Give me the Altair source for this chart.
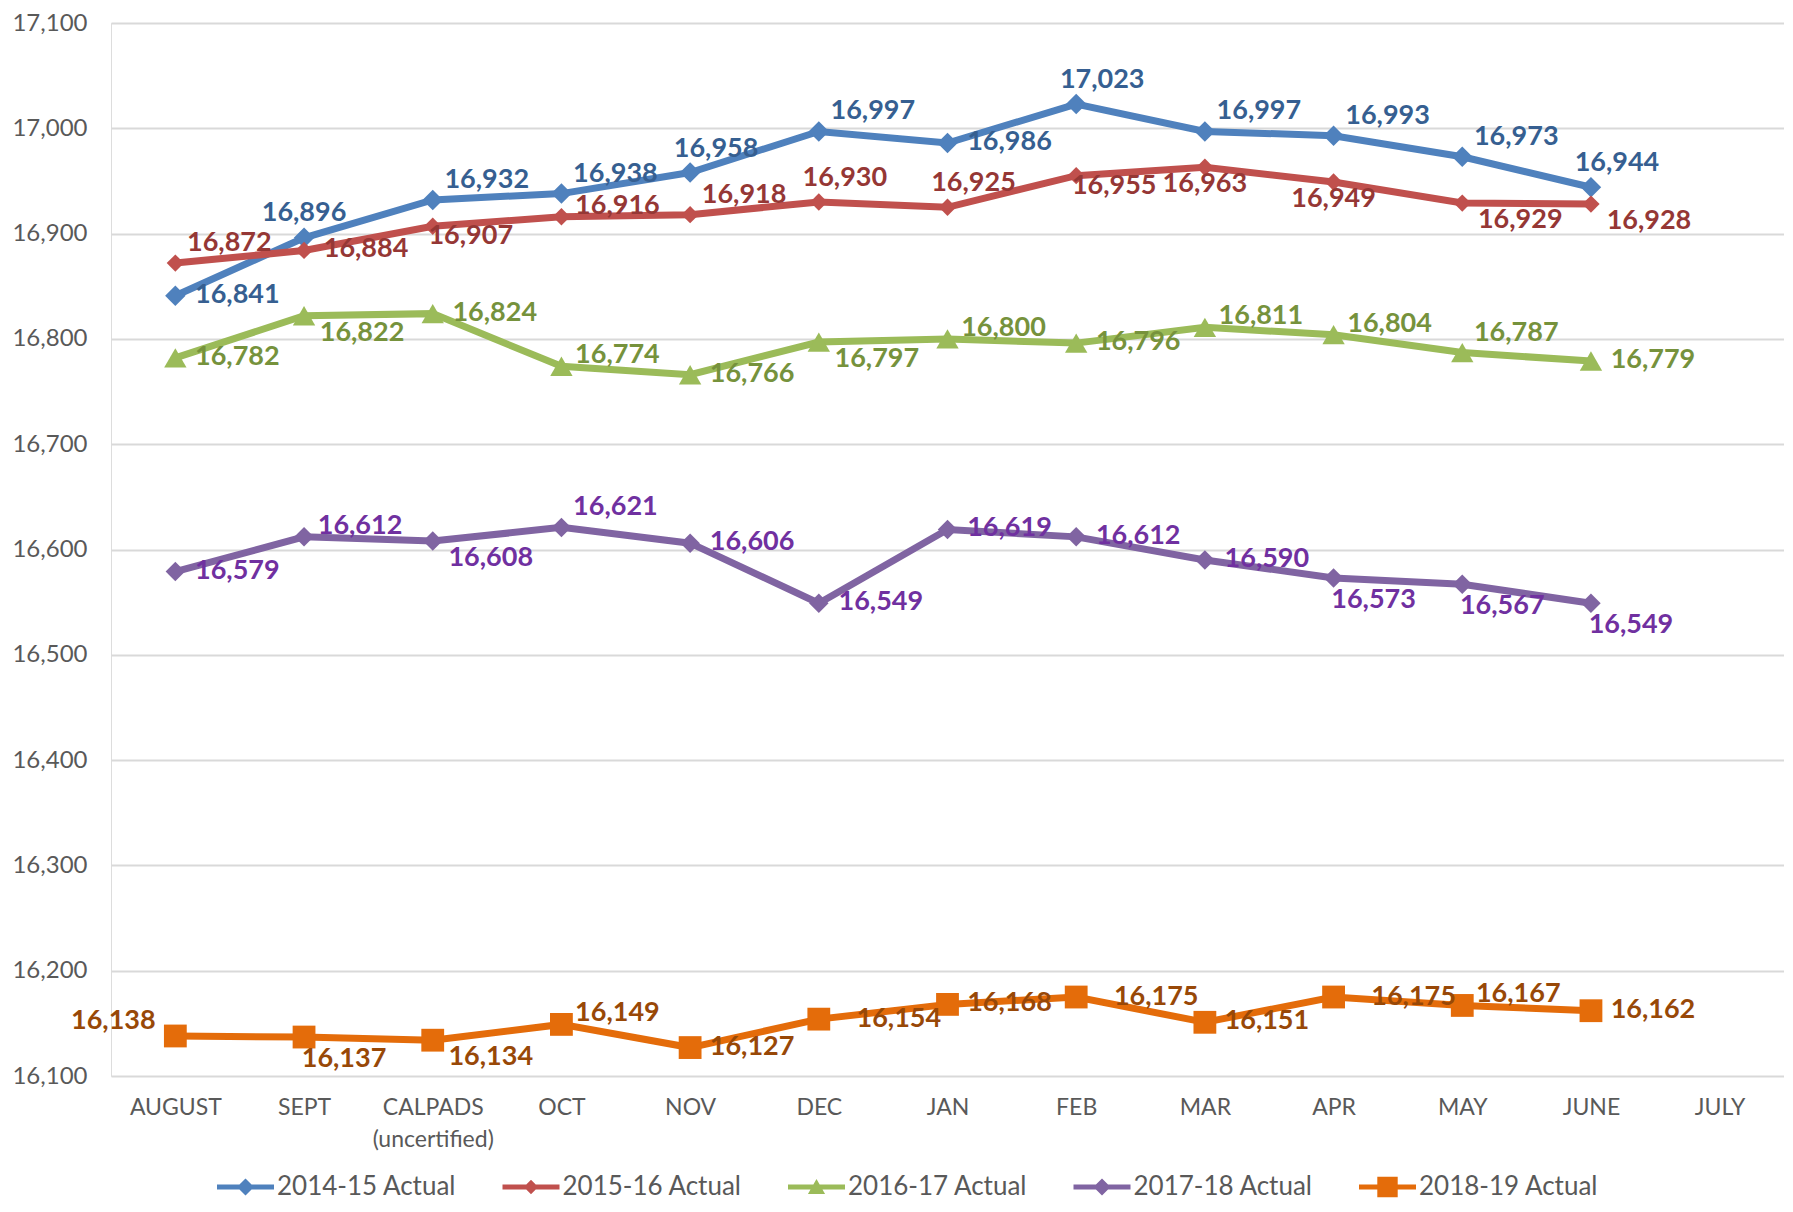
import altair as alt
import pandas as pd

# ---------------- data ----------------
months = ["AUGUST", "SEPT", "CALPADS (uncertified)", "OCT", "NOV", "DEC",
          "JAN", "FEB", "MAR", "APR", "MAY", "JUNE", "JULY"]
series_names = ["2014-15 Actual", "2015-16 Actual", "2016-17 Actual",
                "2017-18 Actual", "2018-19 Actual"]

v_2014_15 = [16841, 16896, 16932, 16938, 16958, 16997, 16986, 17023, 16997, 16993, 16973, 16944]
v_2015_16 = [16872, 16884, 16907, 16916, 16918, 16930, 16925, 16955, 16963, 16949, 16929, 16928]
v_2016_17 = [16782, 16822, 16824, 16774, 16766, 16797, 16800, 16796, 16811, 16804, 16787, 16779]
v_2017_18 = [16579, 16612, 16608, 16621, 16606, 16549, 16619, 16612, 16590, 16573, 16567, 16549]
v_2018_19 = [16138, 16137, 16134, 16149, 16127, 16154, 16168, 16175, 16151, 16175, 16167, 16162]

# label placement codes (style only)
place_2014_15 = ["R", "A", "RA", "RA", "AR", "RA", "R", "AR", "RA", "RA", "RA", "AR"]
place_2015_16 = ["RA", "R", "RBS", "RM", "RA", "AR", "AR", "RBS", "B", "B", "RB", "RB"]
place_2016_17 = ["R", "RB", "R", "RM", "R", "RB", "RM", "R", "RM", "RM", "RA", "R"]
place_2017_18 = ["R", "RM", "RB", "RA", "R", "R", "R", "R", "R", "BR", "BR", "BR"]
place_2018_19 = ["LA", "BR", "RB", "RM", "R", "RR", "R", "RR", "R", "RR", "RM", "R"]

values = [v_2014_15, v_2015_16, v_2016_17, v_2017_18, v_2018_19]
places = [place_2014_15, place_2015_16, place_2016_17, place_2017_18, place_2018_19]

rows = []
for name, vals, pls in zip(series_names, values, places):
    for m, v, p in zip(months, vals, pls):
        rows.append({"series": name, "month": m, "value": v, "place": p})
df = pd.DataFrame(rows)

# ---------------- styles ----------------
line_colors = ["#4F81BD", "#C0504D", "#9BBB59", "#8064A2", "#E46C0A"]
label_colors = ["#365F91", "#953735", "#76923C", "#7030A0", "#984807"]
shapes = ["diamond", "diamond", "triangle-up", "diamond", "square"]
sizes = [420, 300, 500, 380, 520]

# legend symbols: a short line with the series marker (drawn in a 30px box, path spans 57px)
bar = "M-1.9,-0.17H1.9V0.17H-1.9Z "
legend_paths = [
    bar + "M0,-0.57L0.57,0L0,0.57L-0.57,0Z",
    bar + "M0,-0.48L0.48,0L0,0.48L-0.48,0Z",
    bar + "M0,-0.53L0.57,0.46L-0.57,0.46Z",
    bar + "M0,-0.57L0.57,0L0,0.57L-0.57,0Z",
    bar + "M-0.68,-0.68H0.68V0.68H-0.68Z",
]

FONT = "Lato"
GRAY = "#595959"

legend_def = alt.Legend(
    title=None, orient="none", legendX=119.5, legendY=1149,
    direction="horizontal", columns=5, symbolSize=900,
    symbolStrokeWidth=0, symbolOpacity=1, labelFontSize=26, labelColor=GRAY,
    labelFont=FONT, labelOffset=16.5, labelLimit=400, columnPadding=45.5, padding=0,
)

color_scale = alt.Scale(domain=series_names, range=line_colors)

label_expr = ("length(split(datum.value, ' (')) > 1 ? "
              "[split(datum.value, ' (')[0], '(' + split(datum.value, ' (')[1]] : datum.value")

x_enc = alt.X("month:N", sort=months,
              scale=alt.Scale(domain=months, padding=0.5),
              axis=alt.Axis(title=None, labelAngle=0, ticks=False, domain=False,
                            grid=False, labelPadding=20, labelFontSize=23,
                            labelColor=GRAY, labelFont=FONT, labelExpr=label_expr,
                            labelLineHeight=32))
y_enc = alt.Y("value:Q",
              scale=alt.Scale(domain=[16100, 17100], nice=False, zero=False),
              axis=alt.Axis(title=None, values=list(range(16100, 17101, 100)),
                            format=",.0f", ticks=False, domain=False, labelPadding=24,
                            labelFontSize=24, labelColor=GRAY, labelFont=FONT,
                            gridColor="#D9D9D9", gridWidth=2))

base = alt.Chart(df)

# legend carrier (invisible marks, only feeds the legend)
legend_layer = base.mark_point(filled=True, size=0, opacity=1).encode(
    x=x_enc, y=y_enc,
    color=alt.Color("series:N", scale=color_scale, legend=legend_def),
    shape=alt.Shape("series:N", scale=alt.Scale(domain=series_names, range=legend_paths),
                    legend=legend_def),
)

lines = base.mark_line(strokeWidth=7).encode(
    x=x_enc, y=y_enc,
    color=alt.Color("series:N", scale=color_scale, legend=None),
    detail="series:N",
)

point_layers = []
for name, shp, sz in zip(series_names, shapes, sizes):
    point_layers.append(
        base.transform_filter(alt.datum.series == name)
        .mark_point(filled=True, opacity=1, shape=shp, size=sz)
        .encode(x=x_enc, y=y_enc,
                color=alt.Color("series:N", scale=color_scale, legend=None))
    )

offsets = {
    "R": (62, -1), "RA": (54, -20), "RM": (56, -11), "RB": (58, 17),
    "RBS": (38, 10), "RR": (80, 0), "A": (0, -25), "AR": (26, -24),
    "B": (0, 17), "BR": (40, 22), "LA": (-62, -15),
}

text_layers = []
for code, (dx, dy) in offsets.items():
    text_layers.append(
        base.transform_filter(alt.datum.place == code).mark_text(
            font=FONT, fontWeight="bold", fontSize=27, align="center",
            baseline="middle", dx=dx, dy=dy,
        ).encode(
            x=x_enc, y=y_enc,
            text=alt.Text("value:Q", format=","),
            fill=alt.Fill("series:N", scale=alt.Scale(domain=series_names, range=label_colors),
                          legend=None),
        )
    )

chart = alt.layer(legend_layer, lines, *point_layers, *text_layers).properties(
    width=1673, height=1053,
    autosize=alt.AutoSizeParams(type="none"),
    padding={"left": 103, "top": 15, "right": 0, "bottom": 126},
    background="white",
).configure_view(stroke=None).configure(font=FONT)

chart.save("out.html", embed_options={"renderer": "svg", "actions": False})
